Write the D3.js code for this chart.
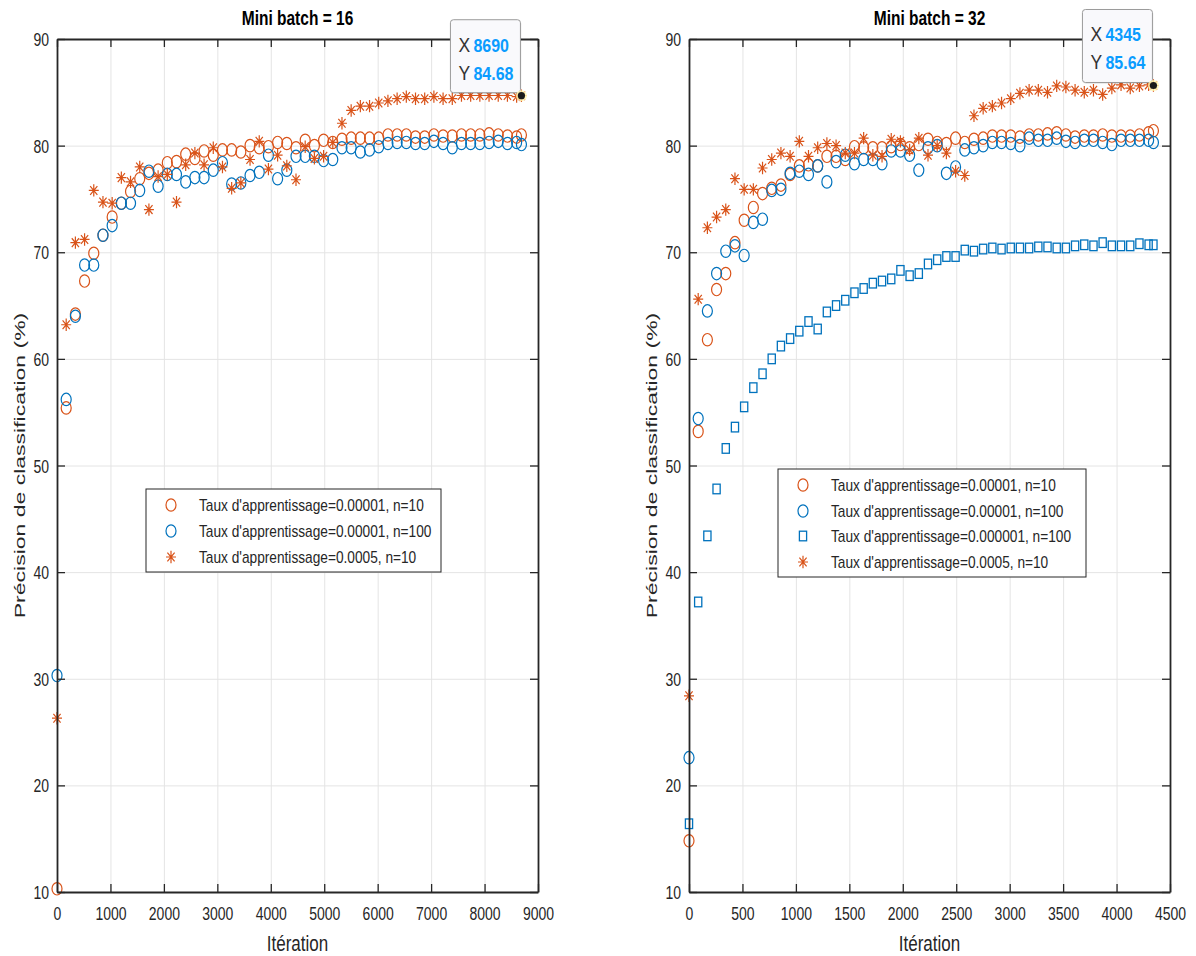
<!DOCTYPE html>
<html>
<head>
<meta charset="utf-8">
<script src="https://cdn.jsdelivr.net/npm/d3@7"></script>
<style>
    body { margin: 0; background: #fff; }
    svg { font-family: "Liberation Sans", Arial, Helvetica, sans-serif; }
</style>
</head>
<body>
<svg id="chart" width="1196" height="956"></svg>
<script>
// iterations at which validation was logged
const iterB16 = [0, 172, 344, 516, 688, 860, 1032, 1204, 1376, 1548, 1720, 1892, 2064, 2236, 2408, 2580,
    2752, 2924, 3096, 3268, 3440, 3612, 3784, 3956, 4128, 4300, 4472, 4644, 4816, 4988, 5160, 5332, 5504,
    5676, 5848, 6020, 6192, 6364, 6536, 6708, 6880, 7052, 7224, 7396, 7568, 7740, 7912, 8084, 8256, 8428,
    8600, 8690];
const iterB32 = [0, 86, 172, 258, 344, 430, 516, 602, 688, 774, 860, 946, 1032, 1118, 1204, 1290, 1376,
    1462, 1548, 1634, 1720, 1806, 1892, 1978, 2064, 2150, 2236, 2322, 2408, 2494, 2580, 2666, 2752, 2838,
    2924, 3010, 3096, 3182, 3268, 3354, 3440, 3526, 3612, 3698, 3784, 3870, 3956, 4042, 4128, 4214, 4300,
    4345];

// Mini batch = 16
const b16Lr1e5n10 = [10.3, 55.4, 64.2, 67.3, 69.9, 71.6, 73.3, 74.6, 75.7, 76.9, 77.4, 77.7, 78.4, 78.5,
    79.2, 78.8, 79.5, 79.1, 79.6, 79.6, 79.4, 80.0, 79.8, 79.9, 80.3, 80.2, 79.8, 80.5, 80.0, 80.5, 80.3,
    80.6, 80.7, 80.7, 80.7, 80.7, 81.0, 81.0, 81.0, 80.8, 80.8, 81.0, 80.9, 80.9, 81.0, 81.0, 81.0, 81.1,
    81.0, 80.9, 80.8, 81.0];
const b16Lr1e5n100 = [30.3, 56.2, 64.0, 68.8, 68.8, 71.6, 72.5, 74.6, 74.6, 75.8, 77.6, 76.2, 77.3, 77.3,
    76.6, 77.0, 77.0, 77.7, 78.4, 76.4, 76.5, 77.2, 77.5, 79.1, 76.9, 77.7, 79.0, 79.0, 79.0, 78.6, 78.7,
    79.8, 79.8, 79.4, 79.6, 79.9, 80.2, 80.3, 80.3, 80.2, 80.2, 80.4, 80.2, 79.8, 80.2, 80.2, 80.2, 80.3,
    80.4, 80.2, 80.3, 80.1];
const b16Lr5e4n10 = [26.3, 63.2, 70.9, 71.2, 75.8, 74.7, 74.6, 77.0, 76.6, 78.0, 74.0, 77.1, 77.3, 74.7,
    78.2, 79.3, 78.2, 79.8, 78.0, 76.0, 76.5, 78.7, 80.4, 77.8, 79.1, 78.1, 76.8, 79.9, 78.8, 79.0, 80.3,
    82.1, 83.3, 83.7, 83.7, 84.0, 84.2, 84.4, 84.6, 84.4, 84.4, 84.6, 84.4, 84.4, 84.7, 84.7, 84.7, 84.7,
    84.7, 84.7, 84.6, 84.68];

// Mini batch = 32
const b32Lr1e5n10 = [14.8, 53.2, 61.8, 66.5, 68.0, 70.9, 73.0, 74.2, 75.5, 76.0, 76.3, 77.3, 78.1, 78.2,
    78.1, 79.0, 79.0, 78.7, 79.9, 79.8, 79.8, 79.8, 79.9, 80.1, 79.8, 80.1, 80.6, 80.3, 80.2, 80.7, 80.3,
    80.6, 80.7, 80.9, 80.9, 80.9, 80.8, 81.0, 81.0, 81.1, 81.2, 81.0, 80.8, 80.9, 80.9, 81.0, 80.9, 80.9,
    80.9, 81.0, 81.2, 81.4];
const b32Lr1e5n100 = [22.6, 54.4, 64.5, 68.0, 70.1, 70.6, 69.7, 72.8, 73.1, 75.8, 75.9, 77.4, 77.6, 77.3,
    78.1, 76.6, 78.5, 79.1, 78.3, 78.7, 78.7, 78.3, 79.5, 79.5, 79.1, 77.7, 79.8, 80.0, 77.4, 78.0, 79.6,
    79.8, 80.0, 80.3, 80.3, 80.2, 80.0, 80.7, 80.5, 80.5, 80.7, 80.4, 80.3, 80.5, 80.5, 80.3, 80.1, 80.5,
    80.5, 80.5, 80.5, 80.3];
const b32Lr1e6n100 = [16.4, 37.2, 43.4, 47.8, 51.6, 53.6, 55.5, 57.3, 58.6, 60.0, 61.2, 61.9, 62.6, 63.5,
    62.8, 64.4, 65.0, 65.5, 66.2, 66.6, 67.1, 67.3, 67.5, 68.3, 67.8, 68.0, 68.9, 69.3, 69.6, 69.6, 70.2,
    70.1, 70.3, 70.4, 70.3, 70.4, 70.4, 70.4, 70.5, 70.5, 70.4, 70.4, 70.6, 70.7, 70.6, 70.9, 70.6, 70.6,
    70.6, 70.8, 70.7, 70.7];
const b32Lr5e4n10 = [28.4, 65.6, 72.3, 73.3, 74.0, 76.9, 75.9, 75.9, 77.9, 78.7, 79.3, 79.0, 80.4, 79.0,
    79.8, 80.2, 80.0, 79.3, 79.3, 80.7, 79.1, 79.0, 80.6, 80.4, 79.6, 80.7, 79.1, 80.0, 79.3, 77.6, 77.2,
    82.8, 83.5, 83.7, 84.0, 84.4, 84.9, 85.2, 85.2, 85.0, 85.6, 85.5, 85.2, 85.0, 85.2, 84.8, 85.4, 85.7,
    85.4, 85.6, 85.7, 85.64];

const yTicks = [10, 20, 30, 40, 50, 60, 70, 80, 90];
const xTicksB16 = [0, 1000, 2000, 3000, 4000, 5000, 6000, 7000, 8000, 9000];
const xTicksB32 = [0, 500, 1000, 1500, 2000, 2500, 3000, 3500, 4000, 4500];

const labelsB16 = ["Taux d'apprentissage=0.00001, n=10", "Taux d'apprentissage=0.00001, n=100",
    "Taux d'apprentissage=0.0005, n=10"];
const labelsB32 = ["Taux d'apprentissage=0.00001, n=10", "Taux d'apprentissage=0.00001, n=100",
    "Taux d'apprentissage=0.000001, n=100", "Taux d'apprentissage=0.0005, n=10"];

const orange = "#D95319";
const blue = "#0072BD";
const ink = "#262626";
const TOP = 39, BOTTOM = 892;

const svg = d3.select("#chart");

// text drawn taller than wide, like the stretched original
function addText(parent, x, y, str, size, sy, anchor, extra) {
    let g = parent.append("g").attr("transform", `translate(${x},${y}) ${extra || ""} scale(1,${sy})`);
    return g.append("text")
        .attr("text-anchor", anchor || "start")
        .attr("font-size", size)
        .attr("fill", ink)
        .text(str);
}

function drawMarker(g, shape, color) {
    if (shape === "circle") {
        g.append("ellipse").attr("rx", 5).attr("ry", 6.2)
            .attr("fill", "none").attr("stroke", color).attr("stroke-width", 1.2);
    } else if (shape === "square") {
        g.append("rect").attr("x", -3.6).attr("y", -4.8).attr("width", 7.2).attr("height", 9.6)
            .attr("fill", "none").attr("stroke", color).attr("stroke-width", 1.3);
    } else {
        g.append("path")
            .attr("d", "M0,-6.2V6.2M-5,0H5M-3.6,-4.4L3.6,4.4M-3.6,4.4L3.6,-4.4")
            .attr("fill", "none").attr("stroke", color).attr("stroke-width", 1.2);
    }
}

function drawPanel(cfg) {
    let x = d3.scaleLinear().domain([0, cfg.xMax]).range([cfg.left, cfg.right]);
    let y = d3.scaleLinear().domain([10, 90]).range([BOTTOM, TOP]);
    let g = svg.append("g");

    // grid
    g.append("g").attr("transform", `translate(0,${BOTTOM})`)
        .call(d3.axisBottom(x).tickValues(cfg.xTicks).tickSize(-(BOTTOM - TOP)).tickFormat(""))
        .call(a => a.select(".domain").remove())
        .selectAll("line").attr("stroke", "#e4e4e4");
    g.append("g").attr("transform", `translate(${cfg.left},0)`)
        .call(d3.axisLeft(y).tickValues(yTicks).tickSize(-(cfg.right - cfg.left)).tickFormat(""))
        .call(a => a.select(".domain").remove())
        .selectAll("line").attr("stroke", "#e4e4e4");

    // data
    cfg.series.forEach(function (s) {
        g.append("g").selectAll("g").data(s.values).join("g")
            .attr("transform", (d, i) => `translate(${x(cfg.iters[i])},${y(d)})`)
            .each(function () { drawMarker(d3.select(this), s.shape, s.color); });
    });

    // box with inward ticks
    let axBottom = g.append("g").attr("transform", `translate(0,${BOTTOM})`)
        .call(d3.axisBottom(x).tickValues(cfg.xTicks).tickSize(-8).tickSizeOuter(0).tickFormat(d3.format("d")));
    axBottom.selectAll("text")
        .attr("y", 0).attr("dy", null)
        .attr("transform", "translate(0,27.5) scale(1,1.35)");
    let axLeft = g.append("g").attr("transform", `translate(${cfg.left},0)`)
        .call(d3.axisLeft(y).tickValues(yTicks).tickSize(-8).tickSizeOuter(0).tickFormat(d3.format("d")));
    axLeft.selectAll("text")
        .attr("x", 0).attr("dy", null)
        .attr("transform", "translate(-8,6.5) scale(1,1.35)");
    g.append("g").attr("transform", `translate(0,${TOP})`)
        .call(d3.axisTop(x).tickValues(cfg.xTicks).tickSize(-8).tickSizeOuter(0).tickFormat(""));
    g.append("g").attr("transform", `translate(${cfg.right},0)`)
        .call(d3.axisRight(y).tickValues(yTicks).tickSize(-8).tickSizeOuter(0).tickFormat(""));

    g.selectAll(".domain").attr("stroke", ink).attr("stroke-width", 1.8);
    g.selectAll(".tick line").filter(function () { return this.getAttribute("stroke") !== "#e4e4e4"; })
        .attr("stroke", ink).attr("stroke-width", 1.3);
    g.selectAll(".tick text")
        .attr("font-family", "Liberation Sans, Arial, sans-serif")
        .attr("font-size", 14).attr("fill", ink);

    // titles
    let mid = (cfg.left + cfg.right) / 2;
    addText(g, mid, 25, cfg.title, 15.5, 1.3, "middle").attr("font-weight", "bold").attr("fill", "#000");
    addText(g, mid, 951, "Itération", 17, 1.3, "middle");
    addText(g, cfg.left - 32, (TOP + BOTTOM) / 2, "Précision de classification (%)", 17.3, 0.88, "middle",
        "rotate(-90) scale(1.33,1)");

    // legend
    let lg = cfg.legend;
    g.append("rect").attr("x", lg.x).attr("y", lg.y).attr("width", lg.w).attr("height", lg.h)
        .attr("fill", "#fff").attr("stroke", ink).attr("stroke-width", 1);
    cfg.series.forEach(function (s, i) {
        let ry = lg.rows[i];
        drawMarker(g.append("g").attr("transform", `translate(${lg.x + 25},${ry})`), s.shape, s.color);
        addText(g, lg.x + 53, ry + 5.5, s.label, 13.7, 1.15, "start");
    });

    // data tip on the last point of the best run
    let tipS = cfg.series[cfg.series.length - 1];
    let last = tipS.values.length - 1;
    let px = x(cfg.iters[last]), py = y(tipS.values[last]);
    let bx = px - 71, by = py - 76;
    g.append("rect").attr("x", bx + 1).attr("y", by + 1.5).attr("width", 70).attr("height", 73).attr("rx", 3)
        .attr("fill", "#000").attr("opacity", 0.08);
    g.append("rect").attr("x", bx).attr("y", by).attr("width", 70).attr("height", 73).attr("rx", 3)
        .attr("fill", "#f9f9fc").attr("stroke", "#9a9a9a").attr("stroke-width", 1);
    let tipRows = [["X", String(cfg.iters[last]), 32], ["Y", tipS.values[last].toFixed(2), 60]];
    tipRows.forEach(function (r) {
        addText(g, bx + 8, by + r[2], r[0], 17.5, 1.2, "start").attr("fill", "#333");
        addText(g, bx + 23, by + r[2], r[1], 16, 1.2, "start")
            .attr("fill", "#0a9cff").attr("font-weight", "bold");
    });
    g.append("circle").attr("cx", px).attr("cy", py).attr("r", 5.5).attr("fill", "#fff6b0").attr("opacity", 0.8);
    g.append("circle").attr("cx", px).attr("cy", py).attr("r", 3.6).attr("fill", "#1a1a1a");
}

drawPanel({
    left: 57, right: 538, xMax: 9000, xTicks: xTicksB16, iters: iterB16,
    title: "Mini batch = 16",
    series: [
        {values: b16Lr1e5n10, shape: "circle", color: orange, label: labelsB16[0]},
        {values: b16Lr1e5n100, shape: "circle", color: blue, label: labelsB16[1]},
        {values: b16Lr5e4n10, shape: "star", color: orange, label: labelsB16[2]}
    ],
    legend: {x: 146, y: 489, w: 295, h: 83, rows: [505, 531, 557]}
});

drawPanel({
    left: 689, right: 1170, xMax: 4500, xTicks: xTicksB32, iters: iterB32,
    title: "Mini batch = 32",
    series: [
        {values: b32Lr1e5n10, shape: "circle", color: orange, label: labelsB32[0]},
        {values: b32Lr1e5n100, shape: "circle", color: blue, label: labelsB32[1]},
        {values: b32Lr1e6n100, shape: "square", color: blue, label: labelsB32[2]},
        {values: b32Lr5e4n10, shape: "star", color: orange, label: labelsB32[3]}
    ],
    legend: {x: 778, y: 469, w: 308, h: 108, rows: [485, 511, 536, 562]}
});
</script>
</body>
</html>
